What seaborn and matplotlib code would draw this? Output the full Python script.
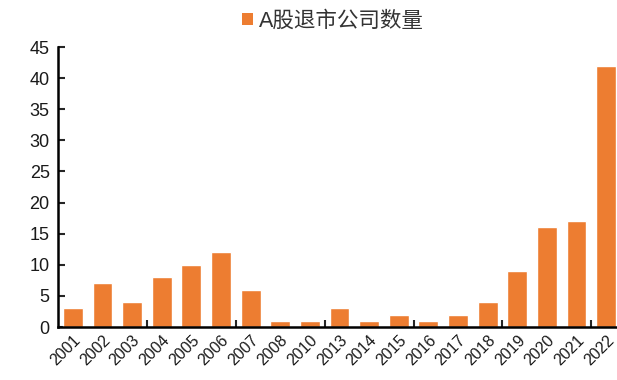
import matplotlib
matplotlib.use("Agg")
import matplotlib.pyplot as plt
import seaborn as sns
import pandas as pd
from matplotlib.patches import Patch

years = ["2001", "2002", "2003", "2004", "2005", "2006", "2007", "2008", "2010",
         "2013", "2014", "2015", "2016", "2017", "2018", "2019", "2020", "2021", "2022"]
counts = [3, 7, 4, 8, 10, 12, 6, 1, 1, 3, 1, 2, 1, 2, 4, 9, 16, 17, 42]
series_name = "A股退市公司数量"
yticks = [0, 5, 10, 15, 20, 25, 30, 35, 40, 45]

sns.set_style("white")
plt.rcParams['font.family'] = ['Liberation Sans', 'Noto Sans CJK SC', 'DejaVu Sans']

df = pd.DataFrame({"year": years, "count": counts})
color = "#ED7D31"

fig = plt.figure(figsize=(6.17, 3.80), dpi=100)
ax = fig.add_axes([58/617, 1 - 327/380, (621-58)/617, (327-47)/380])
sns.barplot(data=df, x="year", y="count", color=color, width=0.67,
            saturation=1, ax=ax)

ax.set_xlim(-0.5, len(years) - 0.5)
ax.set_ylim(0, 45)
ax.set_yticks(yticks)
ax.set_yticklabels([str(v) for v in yticks], fontsize=13, color="#1a1a1a")
ax.set_xlabel("")
ax.set_ylabel("")
for s in ["top", "right"]:
    ax.spines[s].set_visible(False)
for s in ["left", "bottom"]:
    ax.spines[s].set_color("black")
    ax.spines[s].set_linewidth(1.8)

ax.tick_params(axis="y", direction="in", length=5, width=1.5, pad=6, left=True)
ax.set_xticks(range(len(years)))
ax.set_xticklabels(years, rotation=45, ha="right", rotation_mode="anchor",
                   fontsize=11.5, color="#1a1a1a")
ax.tick_params(axis="x", which="major", length=0, pad=4)
ax.set_xticks([2.5, 5.5, 8.5, 11.5, 14.5, 17.5], minor=True)
ax.tick_params(axis="x", which="minor", direction="in", length=5, width=1.5, bottom=True)

handles = [Patch(facecolor=color, edgecolor="none", label=series_name)]
fig.legend(handles=handles, loc="center", bbox_to_anchor=(333/617, 1 - 21/380),
           frameon=False, fontsize=15.5, handlelength=0.5, handleheight=0.5,
           handletextpad=0.3, labelcolor="#333333")

fig.savefig("out.png", dpi=100)
